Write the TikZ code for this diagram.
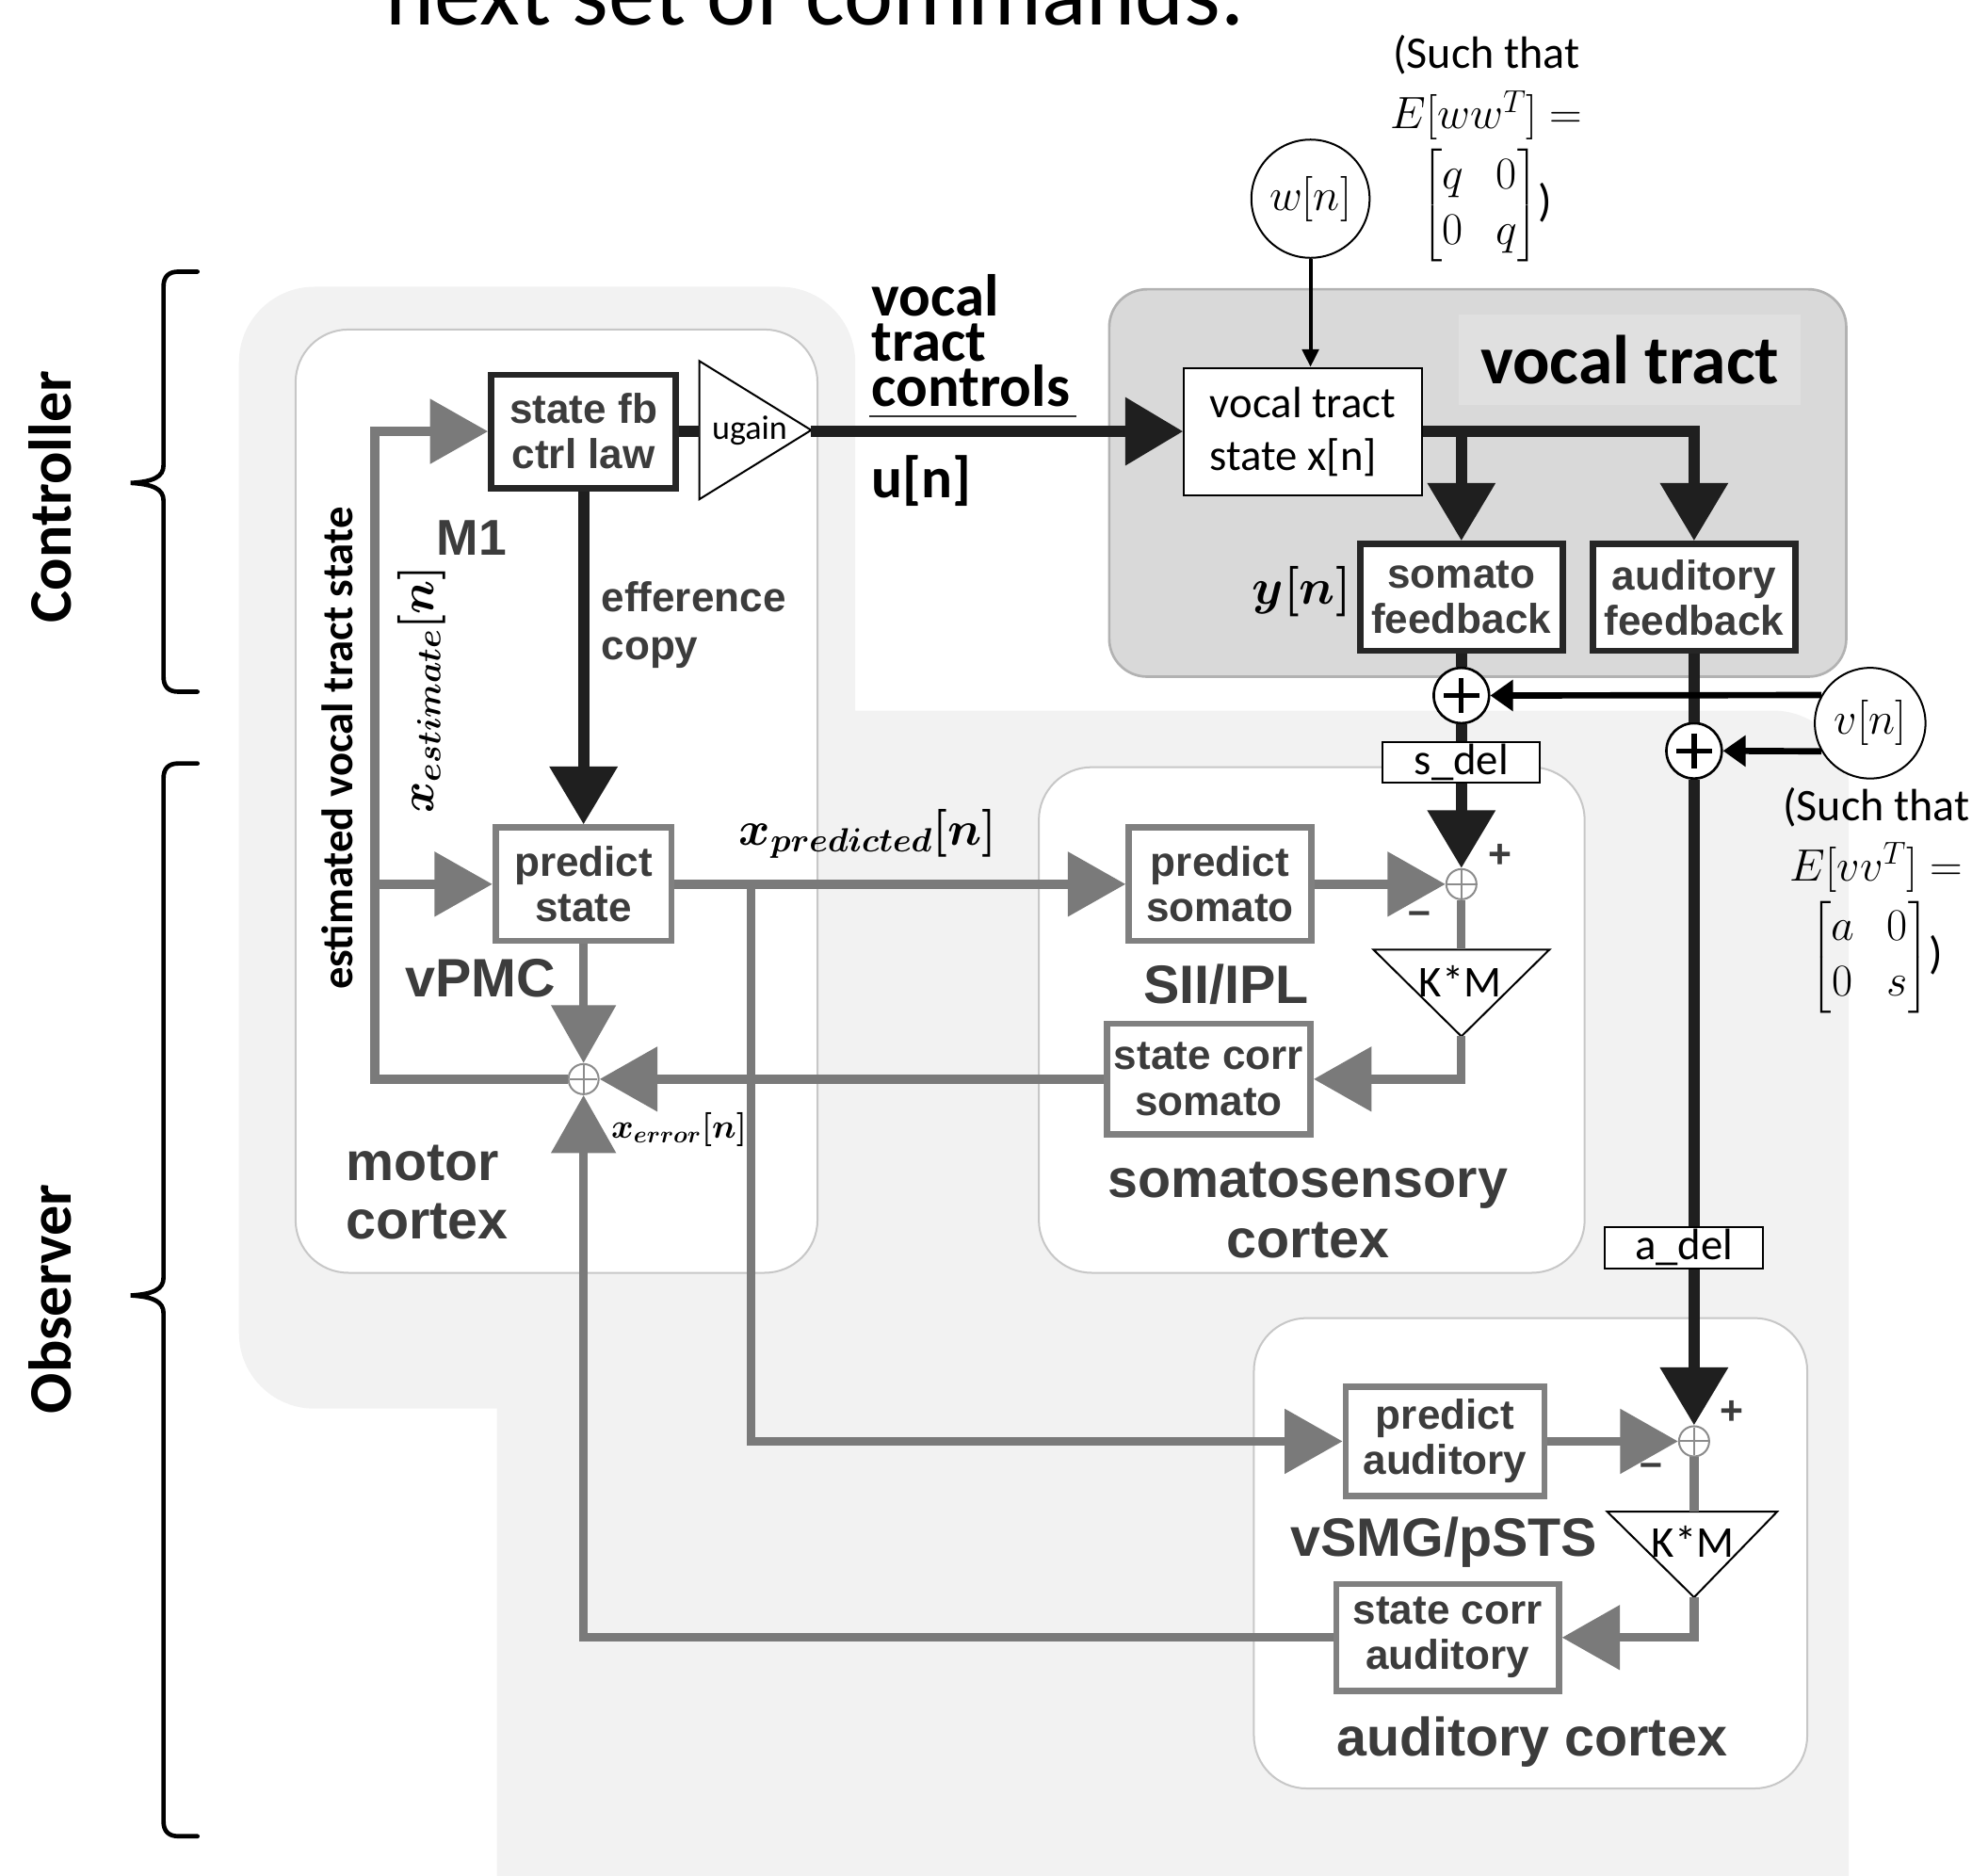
\RequirePackage{fix-cm}
\documentclass[tikz,border=0pt]{standalone}
\usepackage{amsmath}
\usepackage{fontspec}
\setmainfont{Carlito}
\newfontfamily\arialf{Liberation Sans}
\usetikzlibrary{arrows.meta,calc}
\definecolor{bggray}{HTML}{F2F2F2}
\definecolor{vtgray}{HTML}{D9D9D9}
\definecolor{vtlab}{HTML}{E0E0E0}
\definecolor{garr}{HTML}{7A7A7A}
\definecolor{gtext}{HTML}{3C3C3C}
\newcommand\fsz[2]{\fontsize{#1}{#2}\selectfont}
\begin{document}
\begin{tikzpicture}[x=1pt,y=-1pt,
  gline/.style={draw=garr,line width=7pt},
  bline/.style={draw=black!88,line width=9pt},
  gtip/.style={-{Triangle[length=46pt,width=50pt]}},
  btip/.style={-{Triangle[length=46pt,width=52pt]}},
  warr/.style={draw=black,line width=3pt,-{Triangle[length=14pt,width=13pt]}},
  varr/.style={draw=black,line width=5pt,-{Triangle[length=18pt,width=24pt]}},
  cortex/.style={draw=black!22,line width=1.5pt,fill=white,rounded corners=42pt},
  bbox/.style={draw=black!85,line width=5pt,fill=white,inner sep=0pt,align=center,
    font=\arialf\bfseries\fsz{33}{36},text=gtext},
  gbox/.style={draw=black!50,line width=5pt,fill=white,inner sep=0pt,align=center,
    font=\arialf\bfseries\fsz{33}{36},text=gtext},
  reglab/.style={inner sep=0pt,align=center,font=\arialf\bfseries\fsz{43}{48},text=gtext},
  bigsum/.style={circle,draw=black,line width=2pt,fill=white,minimum size=44pt,inner sep=0pt},
  smsum/.style={circle,draw=black!45,line width=1.5pt,fill=white,minimum size=24pt,inner sep=0pt},
  tri/.style={draw=black,line width=1.5pt,fill=white},
  dbox/.style={draw=black,line width=1.5pt,fill=white,inner sep=0pt,font=\fsz{35}{35}},
  pm/.style={inner sep=0pt,font=\arialf\bfseries\fsz{32}{32},text=gtext},
  brace/.style={draw=black,line width=3.5pt,line cap=round}]

\useasboundingbox (0,0) rectangle (1568,1491);
\clip (0,0) rectangle (1568,1491);

% ---------- backgrounds ----------
\fill[bggray,rounded corners=60pt] (190,228) rectangle (680,1120);
\fill[bggray,rounded corners=60pt] (395,565) rectangle (1470,1560);

\draw[cortex] (235,262) rectangle (650,1012);
\draw[cortex] (826,610) rectangle (1260,1012);
\draw[cortex] (997,1048) rectangle (1437,1422);
\draw[fill=vtgray,draw=black!30,line width=2pt,rounded corners=30pt] (882,230) rectangle (1468,538);

% ---------- braces and side labels ----------
\draw[brace] (157,216) -- (142,216) .. controls (134,216) and (130,220) .. (130,228) -- (130,370)
  .. controls (130,379) and (122,383) .. (104,384) .. controls (122,385) and (130,389) .. (130,398)
  -- (130,538) .. controls (130,546) and (134,550) .. (142,550) -- (157,550);
\draw[brace] (157,607) -- (142,607) .. controls (134,607) and (130,611) .. (130,619) -- (130,1016)
  .. controls (130,1025) and (122,1029) .. (104,1030) .. controls (122,1031) and (130,1035) .. (130,1044)
  -- (130,1448) .. controls (130,1456) and (134,1460) .. (142,1460) -- (157,1460);
\node[rotate=90,font=\bfseries\fsz{48}{48},inner sep=0pt] (ctrl) at (40,395) {Controller};
\node[rotate=90,font=\bfseries\fsz{48}{48},inner sep=0pt] (obs) at (40,1033) {Observer};

\node[anchor=base,font=\fsz{74}{74},inner sep=0pt] (topt) at (648,20) {next set of commands.};

% ---------- nodes ----------
\node[bbox,minimum width=147pt,minimum height=90pt] (sfb) at (464,343) {state fb\\ctrl law};
\node[bbox,minimum width=161pt,minimum height=85pt] (sf) at (1162,475) {somato\\feedback};
\node[bbox,minimum width=161pt,minimum height=85pt] (af) at (1347,475) {auditory\\feedback};

\node[gbox,minimum width=140pt,minimum height=90pt] (ps) at (464,703) {predict\\state};
\node[gbox,minimum width=145pt,minimum height=90pt] (pso) at (970,703) {predict\\somato};
\node[gbox,minimum width=162pt,minimum height=88pt] (scs) at (961,858) {state corr\\somato};
\node[gbox,minimum width=158pt,minimum height=87pt] (pa) at (1149,1146) {predict\\auditory};
\node[gbox,minimum width=177pt,minimum height=85pt] (sca) at (1151,1302) {state corr\\auditory};

\node[smsum] (ms) at (464,858) {};
\node[smsum] (ssum) at (1162,703) {};
\node[smsum] (asum) at (1347,1146) {};
\foreach \s in {ms,ssum,asum}{
  \draw[black!45,line width=1.5pt] ($(\s)+(-11,0)$) -- ($(\s)+(11,0)$);
  \draw[black!45,line width=1.5pt] ($(\s)+(0,-11)$) -- ($(\s)+(0,11)$);}

\node[bigsum] (s1) at (1162,553) {};
\node[bigsum] (s2) at (1347,597) {};
\foreach \s in {s1,s2}{
  \draw[line width=4pt] ($(\s)+(-14,0)$) -- ($(\s)+(14,0)$);
  \draw[line width=4pt] ($(\s)+(0,-14)$) -- ($(\s)+(0,14)$);}

\node[dbox,minimum width=125pt,minimum height=32pt] (sdel) at (1162,606) {s\_del};
\node[dbox,minimum width=126pt,minimum height=33pt] (adel) at (1339,992) {a\_del};

\node[draw=black,line width=1.5pt,fill=white,minimum width=189pt,minimum height=101pt,
  align=left,inner sep=0pt,font=\fsz{35}{42}] (vts) at (1036,343) {vocal tract\\state x[n]};
\node[circle,draw=black,line width=1.5pt,fill=white,minimum size=94pt,inner sep=0pt,
  font=\fsz{36}{36}] (wn) at (1042,158) {$w[n]$};
\node[circle,draw=black,line width=1.5pt,fill=white,minimum size=88pt,inner sep=0pt,
  font=\fsz{36}{36}] (vn) at (1487,575) {$v[n]$};

\node[fill=vtlab,minimum width=272pt,minimum height=72pt,inner sep=0pt,
  font=\bfseries\fsz{55}{55}] (vtt) at (1296,286) {vocal tract};

% triangles
\draw[tri] (556,287) -- (645,342) -- (556,397) -- cycle;
\coordinate (ugbase) at (556,343);
\coordinate (ugtip) at (645,343);
\node[inner sep=0pt,font=\fsz{27}{27}] (ugl) at (596,342) {ugain};

\draw[tri] (1092,755) -- (1232,755) -- (1162,824) -- cycle;
\coordinate (km1t) at (1162,755);
\coordinate (km1b) at (1162,824);
\node[inner sep=0pt,font=\fsz{35}{35}] (km1) at (1161,780) {K*M};

\draw[tri] (1278,1202) -- (1413,1202) -- (1347,1270) -- cycle;
\coordinate (km2t) at (1347,1202);
\coordinate (km2b) at (1347,1270);
\node[inner sep=0pt,font=\fsz{35}{35}] (km2) at (1346,1226) {K*M};

\coordinate (ec) at (298,343);
\coordinate (eb) at (298,703);
\coordinate (xb) at (597,703);

% ---------- gray connectors ----------
\draw[gline,gtip] (ms.west) -| (ec) -- (sfb.west);
\draw[gline,gtip] (eb) -- (ps.west);
\draw[gline,gtip] (ps.south) -- (ms.north);
\draw[gline,gtip] (scs.west) -- (ms.east);
\draw[gline,gtip] (sca.west) -| (ms.south);
\draw[gline,gtip] (ps.east) -- (pso.west);
\draw[gline,gtip] (xb) |- (pa.west);
\draw[gline,gtip] (pso.east) -- (ssum.west);
\draw[gline] (ssum.south) -- (km1t);
\draw[gline,gtip] (km1b) |- (scs.east);
\draw[gline,gtip] (pa.east) -- (asum.west);
\draw[gline] (asum.south) -- (km2t);
\draw[gline,gtip] (km2b) |- (sca.east);

% ---------- black connectors ----------
\draw[bline] (sfb.east) -- (ugbase);
\draw[bline,btip] (ugtip) -- (vts.west);
\draw[bline,btip] (sfb.south) -- (ps.north);
\draw[bline,btip] (vts.east) -| (af.north);
\draw[bline,btip] (vts.east -| sf.north) -- (sf.north);
\draw[bline] (sf.south) -- (s1.north);
\draw[bline] (s1.south) -- (sdel.north);
\draw[bline,btip] (sdel.south) -- (ssum.north);
\draw[bline] (af.south) -- (s2.north);
\draw[bline] (s2.south) -- (s2.south |- adel.north);
\draw[bline,btip] (asum |- adel.south) -- (asum.north);
\draw[warr] (wn.south) -- (wn.south |- vts.north);
\draw[varr] (vn.150) -- (s1.east);
\draw[varr] (vn.210) -- (s2.east);

% ---------- labels ----------
\node[anchor=west,inner sep=0pt,align=left,font=\bfseries\fsz{47}{36}] (vtc) at (693,271) {vocal\\tract\\controls};
\draw[black!80,line width=2pt] (691,331) -- (856,331);
\node[anchor=west,inner sep=0pt,font=\bfseries\fsz{46}{46}] (un) at (693,382) {u[n]};

\node[reglab,font=\arialf\bfseries\fsz{40}{40}] (m1l) at (375,428) {M1};
\node[reglab,anchor=west,align=left,font=\arialf\bfseries\fsz{33}{38}] (eff) at (478,497) {efference\\copy};
\node[reglab] (vpmc) at (382,778) {vPMC};
\node[reglab,anchor=west,align=left,font=\arialf\bfseries\fsz{43}{47}] (motor) at (275,948) {motor\\cortex};
\node[reglab] (sii) at (975,783) {SII/IPL};
\node[reglab] (somc) at (1040,962) {somatosensory\\cortex};
\node[reglab] (vsmg) at (1148,1226) {vSMG/pSTS};
\node[reglab] (audc) at (1218,1385) {auditory cortex};

\node[pm] (p1) at (1193,681) {+};
\node[pm] (n1) at (1129,730) {\textendash};
\node[pm] (p2) at (1377,1123) {+};
\node[pm] (n2) at (1313,1169) {\textendash};

\node[rotate=90,inner sep=0pt,font=\bfseries\fsz{35}{35}] (evt) at (268,595) {estimated vocal tract state};
\node[rotate=90,inner sep=0pt,font={\boldmath\fsz{38}{38}}] (xest) at (335,548) {$x_{estimate}[n]$};
\node[inner sep=0pt,font={\boldmath\fsz{38}{38}}] (xpred) at (690,663) {$x_{predicted}[n]$};
\node[inner sep=0pt,font={\boldmath\fsz{40}{40}}] (yn) at (1035,470) {$y[n]$};
\node[inner sep=0pt,font={\boldmath\fsz{27}{27}}] (xerr) at (540,898) {$x_{error}[n]$};

\node[inner sep=0pt,align=center,font=\fsz{36}{44}] (wcov) at (1182,118)
  {(Such that\\[4pt]$E[ww^T]=$\\[6pt]$\setlength\arraycolsep{13pt}\begin{bmatrix}q&0\\0&q\end{bmatrix}$)};
\node[inner sep=0pt,align=center,font=\fsz{36}{44}] (vcov) at (1492,716)
  {(Such that\\[4pt]$E[vv^T]=$\\[6pt]$\setlength\arraycolsep{13pt}\begin{bmatrix}a&0\\0&s\end{bmatrix}$)};
\end{tikzpicture}
\end{document}
